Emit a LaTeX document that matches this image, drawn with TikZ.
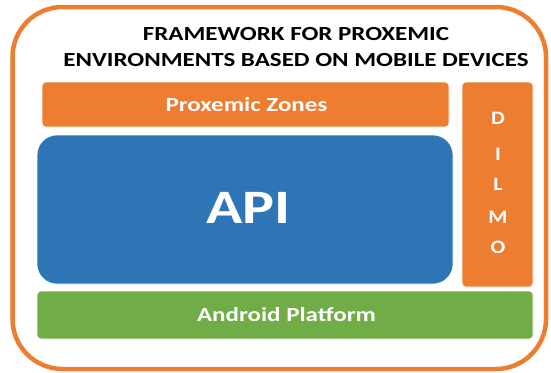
\documentclass[tikz,border=0pt]{standalone}
\usepackage{fontspec}
\setmainfont{Carlito}
\definecolor{orng}{HTML}{ED7D31}
\definecolor{blu}{HTML}{2E75B6}
\definecolor{grn}{HTML}{70AD47}
\newcommand{\wide}[1]{\scalebox{1.25}[1]{#1}}
\begin{document}
\begin{tikzpicture}[x=1pt,y=-1pt,
  box/.style={draw=white,line width=0.6pt,rounded corners=4pt},
  lbl/.style={anchor=base,inner sep=0pt,text=white,font=\bfseries\fontsize{20}{24}\selectfont},
  title/.style={anchor=base,inner sep=0pt,font=\bfseries\fontsize{20}{24}\selectfont}]
\useasboundingbox (0,0) rectangle (551,372);
\draw[orng,line width=4.5pt,rounded corners=50pt,fill=white] (12.5,7) rectangle (546,369);
\node[title] (t1) at (296,40) {\wide{FRAMEWORK FOR PROXEMIC}};
\node[title] (t2) at (296,66) {\wide{ENVIRONMENTS BASED ON MOBILE DEVICES}};
\draw[box,fill=orng] (42,82) rectangle (449,127);
\node[lbl] (pzt) at (246.5,111) {\wide{Proxemic Zones}};
\draw[box,fill=blu,rounded corners=20pt] (37,135) rectangle (453,284);
\node[lbl,font=\bfseries\fontsize{48}{56}\selectfont] (apit) at (248.5,223.5) {\wide{API}};
\draw[box,fill=orng] (462,82) rectangle (533,287);
\foreach \l/\y in {D/124.5,I/160,L/190,M/223,O/253.5}
  \node[lbl,font=\bfseries\fontsize{19}{20}\selectfont] (dl\l) at (498,\y) {\scalebox{1.15}[1]{\l}};
\draw[box,fill=grn] (37,291) rectangle (533,339);
\node[lbl] (apt) at (286.5,321.5) {\wide{Android Platform}};
\end{tikzpicture}
\end{document}
